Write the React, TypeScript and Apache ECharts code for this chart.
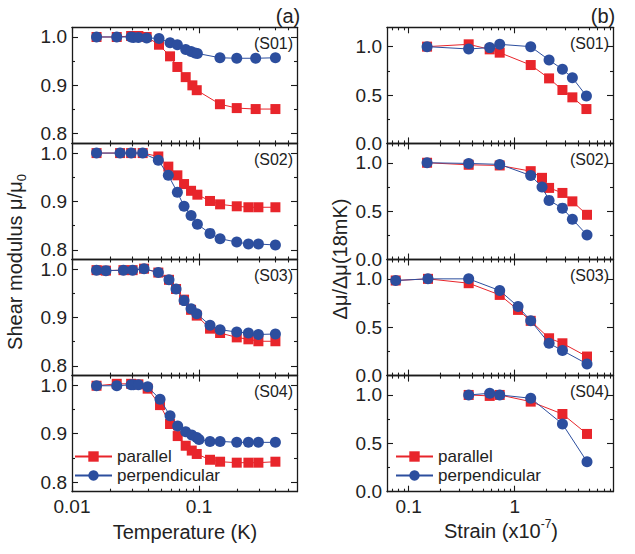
import React, { useEffect, useRef } from "react";
import * as echarts from "echarts";

// ---------- DATA ----------
const sampleNames = ["(S01)", "(S02)", "(S03)", "(S04)"];
const seriesNames = ["parallel", "perpendicular"];

// Temperature (K) panels: shear modulus mu/mu0
const s01TempPar = [0.0156, 0.0225, 0.0292, 0.0333, 0.0387, 0.0484, 0.0591, 0.0675, 0.0785, 0.0886, 0.0959, 0.146, 0.198, 0.279, 0.399];
const s01ShearPar = [1.0, 1.0, 1.002, 1.002, 1.0, 0.984, 0.96, 0.938, 0.917, 0.9, 0.89, 0.861, 0.853, 0.851, 0.851];
const s01TempPerp = [0.0156, 0.0225, 0.0292, 0.0304, 0.0333, 0.0387, 0.0484, 0.0591, 0.0675, 0.0785, 0.0865, 0.093, 0.097, 0.146, 0.198, 0.279, 0.399];
const s01ShearPerp = [1.0, 1.0, 1.0, 0.999, 0.999, 0.998, 0.997, 0.988, 0.984, 0.974, 0.97, 0.967, 0.966, 0.957, 0.956, 0.956, 0.957];

const s02Temp = [0.0156, 0.0239, 0.0292, 0.036, 0.0478, 0.0573, 0.0675, 0.0762, 0.0865, 0.097, 0.122, 0.1464, 0.198, 0.2446, 0.2931, 0.399];
const s02ShearPar = [1.0, 1.0, 1.0, 1.0, 0.993, 0.972, 0.954, 0.936, 0.922, 0.914, 0.901, 0.894, 0.89, 0.888, 0.888, 0.888];
const s02ShearPerp = [1.0, 1.0, 1.0, 1.0, 0.985, 0.954, 0.919, 0.89, 0.871, 0.853, 0.834, 0.823, 0.816, 0.812, 0.812, 0.81];

const s03Temp = [0.0156, 0.0185, 0.0254, 0.03, 0.0369, 0.0478, 0.058, 0.0659, 0.0762, 0.0865, 0.0959, 0.122, 0.1464, 0.198, 0.2446, 0.2931, 0.399];
const s03ShearPar = [0.998, 0.997, 0.998, 0.998, 1.001, 0.993, 0.978, 0.959, 0.937, 0.916, 0.904, 0.877, 0.868, 0.859, 0.855, 0.851, 0.851];
const s03ShearPerp = [0.998, 0.997, 0.998, 0.998, 1.001, 0.993, 0.978, 0.959, 0.935, 0.918, 0.908, 0.884, 0.875, 0.87, 0.868, 0.865, 0.866];

const s04TempPar = [0.0156, 0.0225, 0.0292, 0.0333, 0.0394, 0.0493, 0.0591, 0.0679, 0.0785, 0.0876, 0.0959, 0.122, 0.1464, 0.198, 0.2446, 0.2931, 0.399];
const s04ShearPar = [0.999, 1.003, 1.003, 1.002, 0.993, 0.959, 0.92, 0.895, 0.875, 0.865, 0.858, 0.846, 0.842, 0.84, 0.84, 0.84, 0.842];
const s04TempPerp = [0.0156, 0.0225, 0.0292, 0.0304, 0.0333, 0.0394, 0.0493, 0.0591, 0.0679, 0.0785, 0.0876, 0.0959, 0.1, 0.122, 0.1464, 0.198, 0.2446, 0.2931, 0.399];
const s04ShearPerp = [0.999, 0.999, 1.001, 1.001, 1.001, 0.997, 0.971, 0.937, 0.916, 0.904, 0.897, 0.892, 0.888, 0.884, 0.884, 0.882, 0.882, 0.882, 0.882];

// Strain (x10^-7) panels: delta mu / delta mu(18mK)
const s01Strain = [0.149, 0.368, 0.581, 0.722, 1.416, 2.11, 2.82, 3.5, 4.75];
const s01RatioPar = [1.0, 1.024, 0.972, 0.938, 0.81, 0.672, 0.552, 0.476, 0.355];
const s01RatioPerp = [1.0, 0.976, 0.99, 1.024, 1.0, 0.862, 0.766, 0.679, 0.49];

const s02Strain = [0.149, 0.368, 0.722, 1.416, 1.81, 2.11, 2.82, 3.5, 4.81];
const s02RatioPar = [1.0, 0.979, 0.972, 0.913, 0.844, 0.74, 0.688, 0.601, 0.462];
const s02RatioPerp = [1.0, 0.993, 0.983, 0.868, 0.75, 0.611, 0.531, 0.417, 0.253];

const s03Strain = [0.0754, 0.152, 0.368, 0.722, 1.075, 1.416, 2.11, 2.82, 4.81];
const s03RatioPar = [0.983, 1.0, 0.955, 0.834, 0.679, 0.566, 0.386, 0.334, 0.197];
const s03RatioPerp = [0.983, 1.0, 1.0, 0.879, 0.714, 0.566, 0.334, 0.259, 0.121];

const s04Strain = [0.368, 0.581, 0.722, 1.416, 2.82, 4.81];
const s04RatioPar = [1.0, 0.99, 1.0, 0.931, 0.803, 0.597];
const s04RatioPerp = [1.0, 1.017, 1.0, 0.966, 0.7, 0.31];

// Axes
const tempRange = [0.01, 0.59];
const tempTicks = [0.01, 0.1];
const tempTickLabels = ["0.01", "0.1"];
const strainRange = [0.0624, 8.46];
const strainTicks = [0.1, 1];
const strainTickLabels = ["0.1", "1"];
const shearRange = [0.78, 1.02];
const shearTicks = [0.8, 0.9, 1.0];
const shearMinorTicks = [0.85, 0.95];
const ratioRange = [0, 1.2];
const ratioTicks = [0, 0.5, 1.0];
const ratioMinorTicks = [0.25, 0.75];

// ---------- STYLE ----------
const FONT = '"Liberation Sans", Arial, Helvetica, sans-serif';
const RED = "#E8252B";
const BLUE = "#2C4E9E";
const AXIS = "#1a1a1a";
const TXT = "#222";
const TOP0 = 27.3;
const H = 116.1;
const COLS = [
  { left: 72, width: 225 },
  { left: 387, width: 226 },
];

function logMinor(range: number[]) {
  const out: number[] = [];
  for (let e = -3; e <= 2; e++) {
    const d = Math.pow(10, e);
    for (let k = 2; k <= 9; k++) {
      const v = k * d;
      if (v > range[0] && v < range[1]) out.push(v);
    }
  }
  return out;
}

function pairs(x: number[], y: number[]) {
  return x.map((v, i) => [v, y[i]]);
}

function buildOption() {
  const panels = [
    { col: 0, row: 0, par: pairs(s01TempPar, s01ShearPar), perp: pairs(s01TempPerp, s01ShearPerp) },
    { col: 0, row: 1, par: pairs(s02Temp, s02ShearPar), perp: pairs(s02Temp, s02ShearPerp) },
    { col: 0, row: 2, par: pairs(s03Temp, s03ShearPar), perp: pairs(s03Temp, s03ShearPerp) },
    { col: 0, row: 3, par: pairs(s04TempPar, s04ShearPar), perp: pairs(s04TempPerp, s04ShearPerp) },
    { col: 1, row: 0, par: pairs(s01Strain, s01RatioPar), perp: pairs(s01Strain, s01RatioPerp) },
    { col: 1, row: 1, par: pairs(s02Strain, s02RatioPar), perp: pairs(s02Strain, s02RatioPerp) },
    { col: 1, row: 2, par: pairs(s03Strain, s03RatioPar), perp: pairs(s03Strain, s03RatioPerp) },
    { col: 1, row: 3, par: pairs(s04Strain, s04RatioPar), perp: pairs(s04Strain, s04RatioPerp) },
  ];
  const grid: any[] = [];
  const xAxis: any[] = [];
  const yAxis: any[] = [];
  const series: any[] = [];
  const graphic: any[] = [];
  const lineStyle = { color: AXIS, width: 1.3 };
  const tickStyle = { color: AXIS, width: 1.1 };
  const labelStyle = { fontSize: 19, color: TXT, fontFamily: FONT };

  panels.forEach((p, g) => {
    const left = p.col === 0;
    const c = COLS[p.col];
    grid.push({ left: c.left, top: TOP0 + p.row * H, width: c.width, height: H });
    const xr = left ? tempRange : strainRange;
    const xt = left ? tempTicks : strainTicks;
    const xl = left ? tempTickLabels : strainTickLabels;
    const yr = left ? shearRange : ratioRange;
    const yt = left ? shearTicks : ratioTicks;
    const ym = left ? shearMinorTicks : ratioMinorTicks;

    const xBase = xAxis.length;
    xAxis.push({ type: "log", logBase: 10, gridIndex: g, min: xr[0], max: xr[1], show: false });
    const lmin = Math.log10(xr[0]);
    const lmax = Math.log10(xr[1]);
    const majorLog = xt.map((v) => Math.log10(v));
    const minorLog = logMinor(xr).map((v) => Math.log10(v));
    const fmt = (v: number) => {
      const i = majorLog.findIndex((m) => Math.abs(m - v) < 1e-6);
      return i >= 0 ? xl[i] : "";
    };
    for (const pos of ["bottom", "top"]) {
      xAxis.push({
        type: "value", gridIndex: g, position: pos, min: lmin, max: lmax,
        axisLine: { show: true, onZero: false, lineStyle },
        axisTick: { show: true, inside: true, length: 6, customValues: majorLog, lineStyle: tickStyle },
        axisLabel: { show: pos === "bottom" && p.row === 3, customValues: majorLog, formatter: fmt, margin: 5, ...labelStyle },
        splitLine: { show: false },
      });
      xAxis.push({
        type: "value", gridIndex: g, position: pos, min: lmin, max: lmax,
        axisLine: { show: false, onZero: false },
        axisTick: { show: true, inside: true, length: 3, customValues: minorLog, lineStyle: tickStyle },
        axisLabel: { show: false },
        splitLine: { show: false },
      });
    }
    const yBase = yAxis.length;
    for (const pos of ["left", "right"]) {
      yAxis.push({
        type: "value", gridIndex: g, position: pos, min: yr[0], max: yr[1],
        axisLine: { show: true, onZero: false, lineStyle },
        axisTick: { show: true, inside: true, length: 6, customValues: yt, lineStyle: tickStyle },
        axisLabel: { show: pos === "left", customValues: yt, formatter: (v: number) => v.toFixed(1), margin: 5, ...labelStyle },
        splitLine: { show: false },
      });
      yAxis.push({
        type: "value", gridIndex: g, position: pos, min: yr[0], max: yr[1],
        axisLine: { show: false, onZero: false },
        axisTick: { show: true, inside: true, length: 3, customValues: ym, lineStyle: tickStyle },
        axisLabel: { show: false },
        splitLine: { show: false },
      });
    }
    series.push({
      type: "line", name: seriesNames[0], xAxisIndex: xBase, yAxisIndex: yBase, data: p.par,
      symbol: "rect", symbolSize: 10, showAllSymbol: true,
      itemStyle: { color: RED }, lineStyle: { color: RED, width: 1 }, z: 2,
    });
    series.push({
      type: "line", name: seriesNames[1], xAxisIndex: xBase, yAxisIndex: yBase, data: p.perp,
      symbol: "circle", symbolSize: 11, showAllSymbol: true,
      itemStyle: { color: BLUE }, lineStyle: { color: BLUE, width: 1 }, z: 3,
    });
    graphic.push({
      type: "text", x: c.left + c.width - 4, y: TOP0 + p.row * H + 16,
      style: { text: sampleNames[p.row], fill: TXT, fontSize: 16, fontFamily: FONT, align: "right", verticalAlign: "middle" },
    });
  });

  const titleFont = { fill: TXT, fontSize: 20, fontFamily: FONT };
  graphic.push(
    { type: "text", x: 288, y: 16, style: { text: "(a)", ...titleFont, align: "center", verticalAlign: "middle" } },
    { type: "text", x: 603, y: 16, style: { text: "(b)", ...titleFont, align: "center", verticalAlign: "middle" } },
    { type: "text", x: 185, y: 532, style: { text: "Temperature (K)", ...titleFont, align: "center", verticalAlign: "middle" } },
    {
      type: "text", x: 501, y: 531,
      style: {
        text: "{n|Strain (x10}{s|-7}{n|)}", ...titleFont, align: "center", verticalAlign: "middle",
        rich: {
          n: { fontSize: 20, fontFamily: FONT, fill: TXT, lineHeight: 26 },
          s: { fontSize: 12, fontFamily: FONT, fill: TXT, lineHeight: 12, verticalAlign: "top" },
        },
      },
    },
    {
      type: "text", x: 15, y: 262, rotation: Math.PI / 2,
      style: {
        text: "{n|Shear modulus μ/μ}{s|0}", ...titleFont, align: "center", verticalAlign: "middle",
        rich: {
          n: { fontSize: 20, fontFamily: FONT, fill: TXT, lineHeight: 26 },
          s: { fontSize: 13, fontFamily: FONT, fill: TXT, lineHeight: 12, verticalAlign: "bottom" },
        },
      },
    },
    {
      type: "text", x: 340, y: 259, rotation: Math.PI / 2,
      style: { text: "Δμ/Δμ(18mK)", ...titleFont, align: "center", verticalAlign: "middle" },
    }
  );

  const legendBase = {
    orient: "vertical", itemWidth: 37, itemHeight: 13, itemGap: 2, padding: 0,
    data: seriesNames, selectedMode: false,
    textStyle: { fontSize: 17, color: TXT, fontFamily: FONT },
  };

  return {
    animation: false,
    backgroundColor: "#ffffff",
    grid, xAxis, yAxis, series, graphic,
    legend: [
      { ...legendBase, left: 74, top: 448 },
      { ...legendBase, left: 395, top: 448 },
    ],
  };
}

export default function App() {
  const ref = useRef<HTMLDivElement>(null);
  useEffect(() => {
    if (!ref.current) return;
    const chart = echarts.init(ref.current, undefined, { renderer: "svg" });
    chart.setOption(buildOption() as any);
    return () => chart.dispose();
  }, []);
  return (
    <div
      ref={ref}
      style={{ position: "fixed", left: 0, top: 0, width: 635, height: 554, background: "#fff" }}
    />
  );
}
